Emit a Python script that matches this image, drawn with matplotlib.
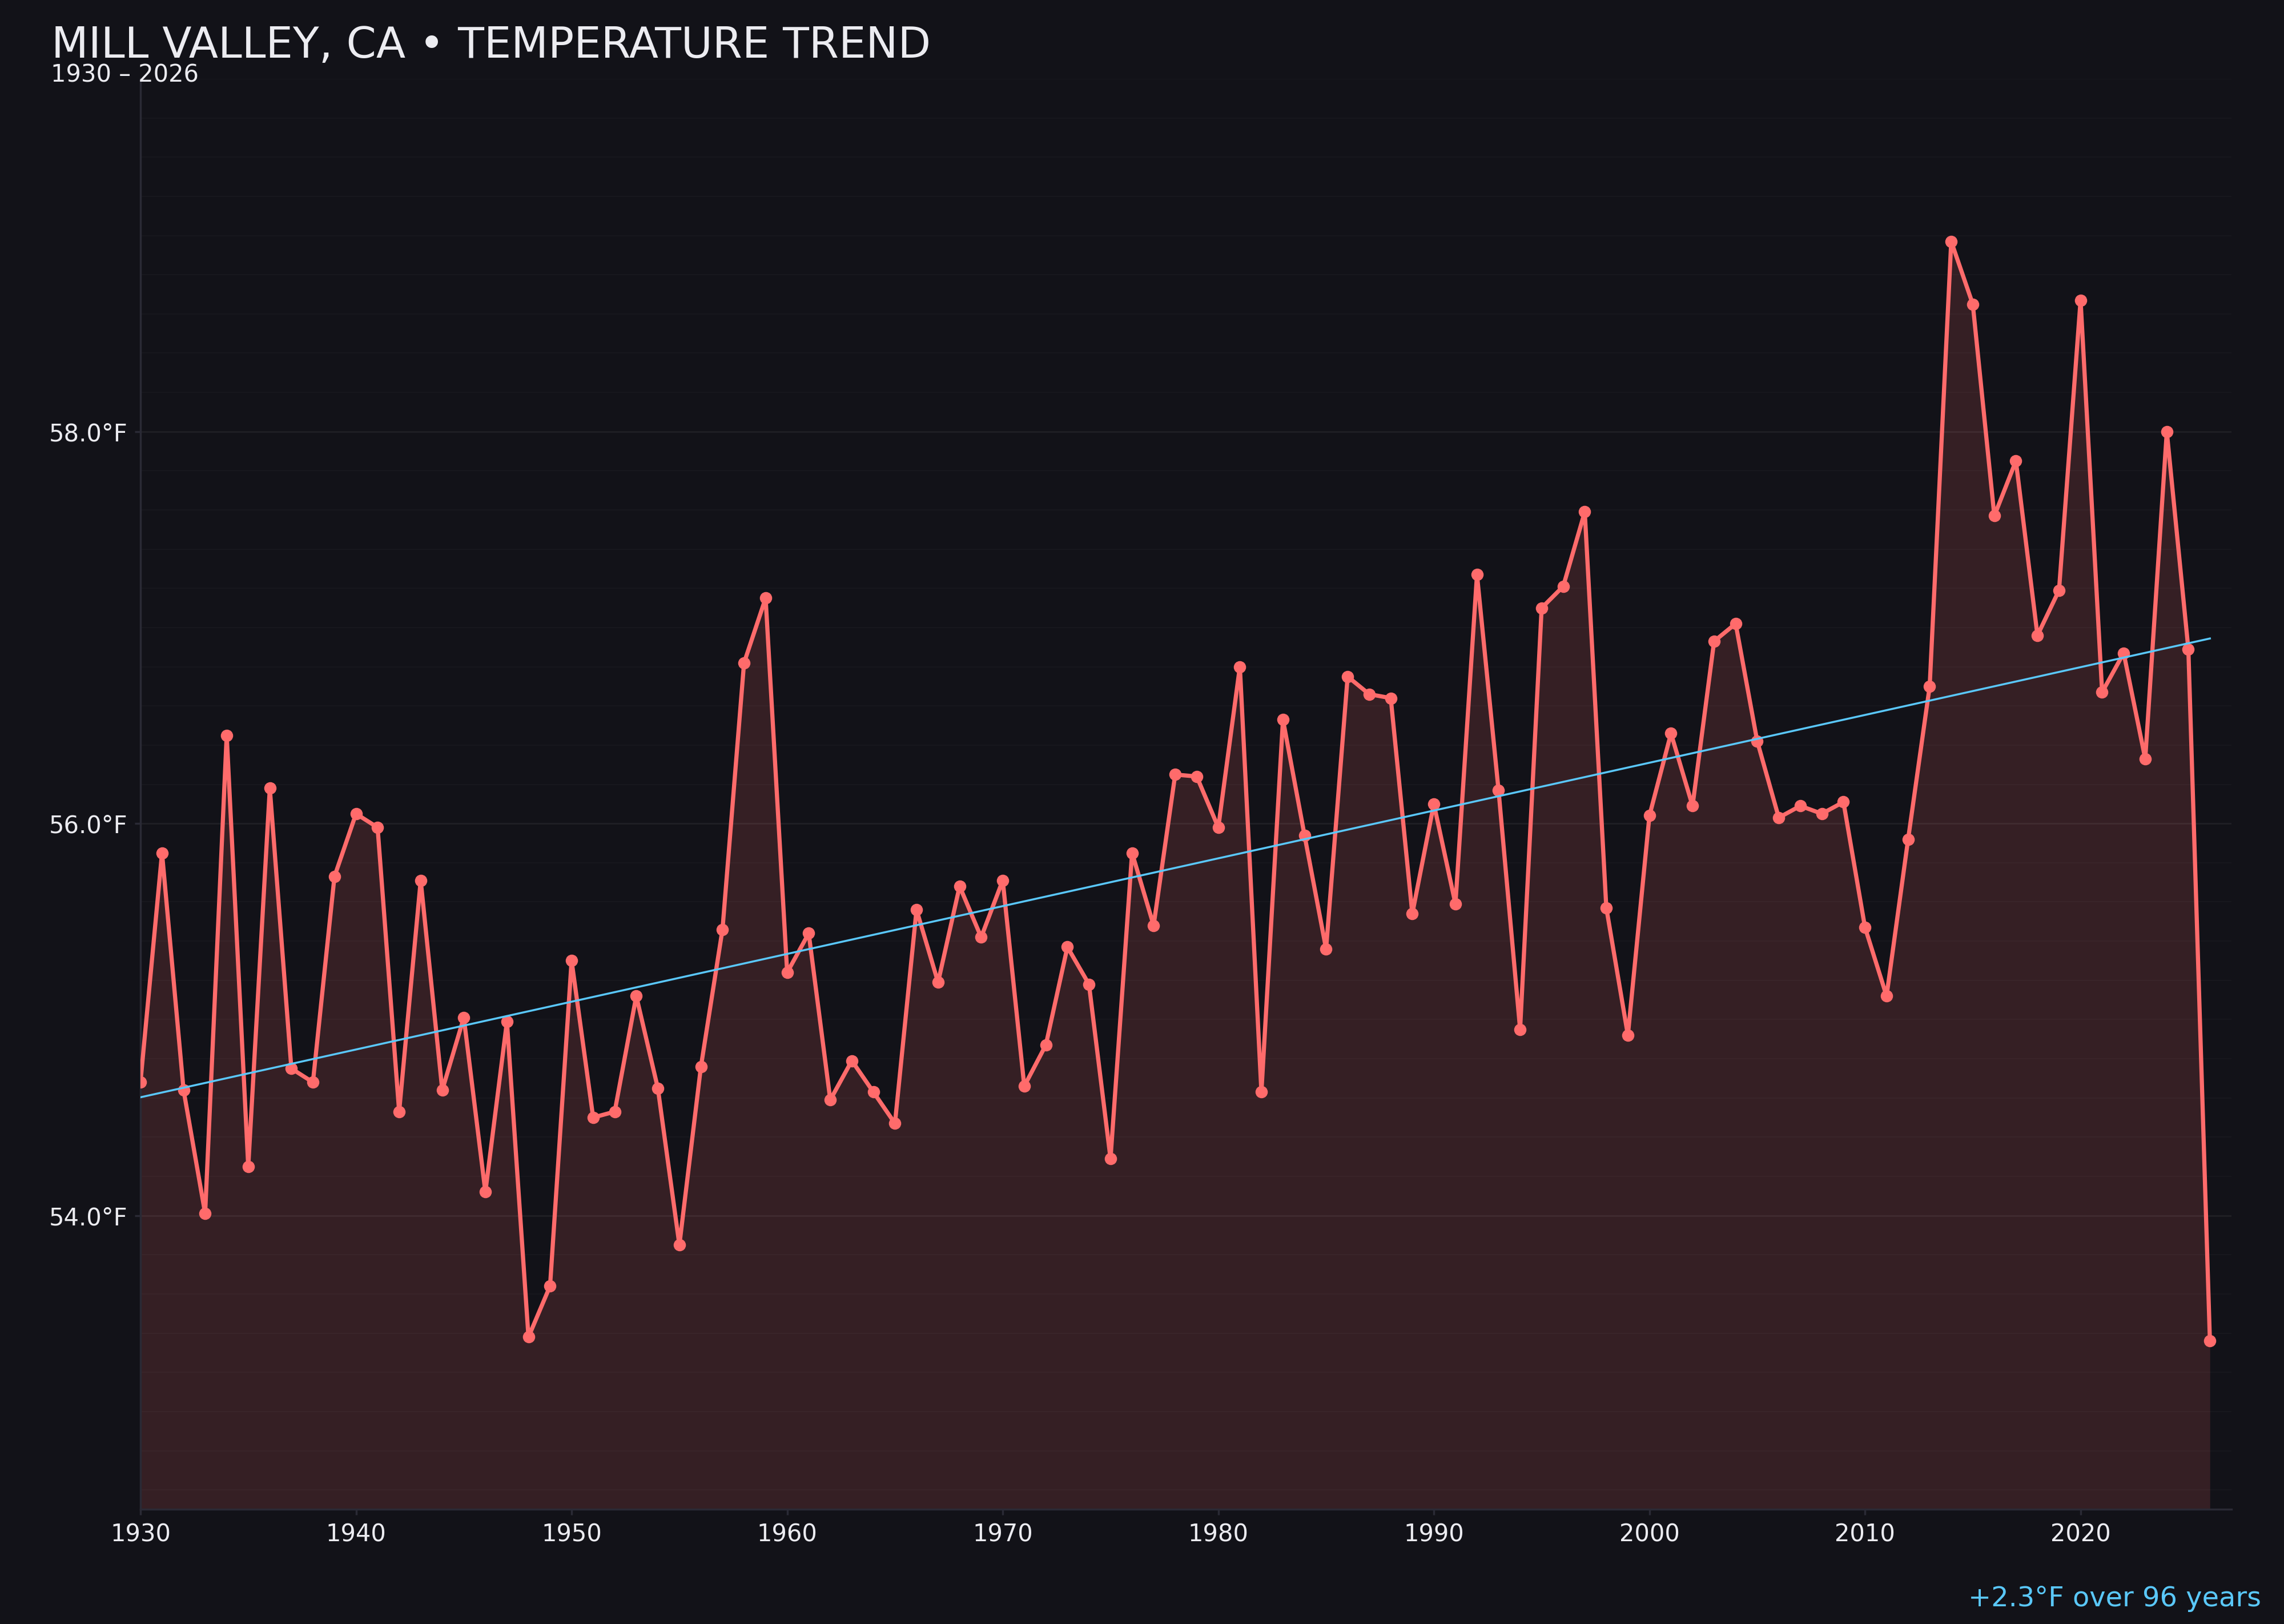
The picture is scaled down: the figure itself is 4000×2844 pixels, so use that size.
import numpy as np
import matplotlib
matplotlib.use("Agg")
import matplotlib.pyplot as plt
from matplotlib.ticker import MultipleLocator, FuncFormatter

# annual mean temperature, Mill Valley CA
years = np.arange(1930, 2027)
temps = [
    54.68, 55.85, 54.64, 54.01, 56.45, 54.25, 56.18, 54.75, 54.68, 55.73,  # 1930s
    56.05, 55.98, 54.53, 55.71, 54.64, 55.01, 54.12, 54.99, 53.38, 53.64,  # 1940s
    55.30, 54.50, 54.53, 55.12, 54.65, 53.85, 54.76, 55.46, 56.82, 57.15,  # 1950s
    55.24, 55.44, 54.59, 54.79, 54.63, 54.47, 55.56, 55.19, 55.68, 55.42,  # 1960s
    55.71, 54.66, 54.87, 55.37, 55.18, 54.29, 55.85, 55.48, 56.25, 56.24,  # 1970s
    55.98, 56.80, 54.63, 56.53, 55.94, 55.36, 56.75, 56.66, 56.64, 55.54,  # 1980s
    56.10, 55.59, 57.27, 56.17, 54.95, 57.10, 57.21, 57.59, 55.57, 54.92,  # 1990s
    56.04, 56.46, 56.09, 56.93, 57.02, 56.42, 56.03, 56.09, 56.05, 56.11,  # 2000s
    55.47, 55.12, 55.92, 56.70, 58.97, 58.65, 57.57, 57.85, 56.96, 57.19,  # 2010s
    58.67, 56.67, 56.87, 56.33, 58.00, 56.89, 53.36,                      # 2020s
]
x_ticks = [1930, 1940, 1950, 1960, 1970, 1980, 1990, 2000, 2010, 2020]

BG = '#121218'
RED = '#ff6b6b'
BLUE = '#5ac8fa'
SPINE = '#2a2a35'
TXT = '#ececf1'

fig = plt.figure(figsize=(16, 11.376), dpi=250, facecolor=BG)
ax = fig.add_axes([0.0615, 0.0705, 0.9155, 0.881])
ax.set_facecolor(BG)

y_lo, y_hi = 52.5, 59.8
ax.fill_between(years, temps, y_lo, color=RED, alpha=0.15, linewidth=0, zorder=1)
ax.plot(years, temps, color=RED, lw=2.1, marker='o', ms=5.2, zorder=3)

# linear trend
coef = np.polyfit(years, temps, 1)
ax.plot(years, np.polyval(coef, years), color=BLUE, lw=1.0, zorder=4)

ax.set_xlim(1930, 2027)
ax.set_ylim(y_lo, y_hi)
ax.set_xticks(x_ticks)
ax.yaxis.set_major_locator(MultipleLocator(2))
ax.yaxis.set_minor_locator(MultipleLocator(0.2))
ax.yaxis.set_major_formatter(FuncFormatter(lambda v, _: f"{v:.1f}°F"))

ax.grid(axis='y', which='major', color='white', alpha=0.06, lw=0.8)
ax.grid(axis='y', which='minor', color='white', alpha=0.025, lw=0.6)
ax.grid(axis='x', visible=False)

for side in ['top', 'right']:
    ax.spines[side].set_visible(False)
for side in ['left', 'bottom']:
    ax.spines[side].set_color(SPINE)
    ax.spines[side].set_linewidth(1.0)

ax.tick_params(axis='both', which='major', colors=SPINE, labelcolor=TXT,
               labelsize=12, length=3, width=1.0)
ax.tick_params(axis='y', which='minor', length=0)

fig.text(0.0225, 0.9645, "MILL VALLEY, CA • TEMPERATURE TREND", color=TXT,
         fontsize=21.6, ha='left', va='baseline')
fig.text(0.0222, 0.9497, "1930 – 2026", color=TXT, fontsize=12,
         ha='left', va='baseline')
fig.text(0.990, 0.011, "+2.3°F over 96 years", color=BLUE, fontsize=13.8,
         ha='right', va='baseline')

fig.savefig('out.png', dpi=250, facecolor=BG)
